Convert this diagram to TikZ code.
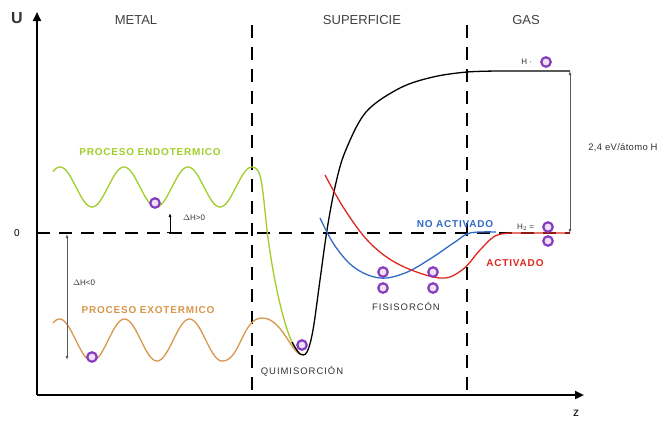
\documentclass[tikz,border=0pt]{standalone}
\usepackage{fontspec}
\setmainfont{Liberation Sans}
\usepackage{tikz}
\usetikzlibrary{arrows.meta, positioning}

\definecolor{endo}{RGB}{160,205,40}
\definecolor{exo}{RGB}{215,150,75}
\definecolor{activ}{RGB}{220,40,30}
\definecolor{noactiv}{RGB}{50,105,200}
\definecolor{atom}{RGB}{135,60,190}

\begin{document}
\begin{tikzpicture}[
  x=1pt, y=-1pt,
  axis/.style={line width=2.2pt, -{Triangle[length=9pt,width=8pt]}},
  sep/.style={line width=1.8pt, dash pattern=on 13pt off 9pt},
  lbl/.style={font=\fontsize{13}{14}\selectfont, text=black!75},
  tag/.style={font=\fontsize{10}{11}\selectfont\bfseries\addfontfeature{LetterSpace=8}, inner sep=0pt},
  small/.style={font=\fontsize{8}{9}\selectfont, text=black!80, inner sep=0pt},
  captxt/.style={font=\fontsize{9.5}{10}\selectfont\addfontfeature{LetterSpace=10}, text=black!80, inner sep=0pt},
  dh/.style={gray!70!black, line width=0.8pt, {Latex[length=4pt]}-{Latex[length=4pt]}},
  curve/.style={line width=1.3pt},
  atm/.style={circle, draw=atom, line width=2.2pt, fill=atom!15, minimum size=9.5pt, inner sep=0pt}
]
\useasboundingbox (0,0) rectangle (666,421);

% axes
\coordinate (orig) at (37,395);
\draw[axis] (orig) -- (37,12);
\draw[axis] (orig) -- (584,395);
\node[font=\fontsize{16}{16}\selectfont\bfseries, text=black!80] (U) at (17,18) {U};
\node[font=\fontsize{12}{12}\selectfont] (z) at (576,413) {z};
\node[font=\fontsize{10}{10}\selectfont] (cero) at (17,233) {0};

% zones
\draw[sep] (37,233) -- (570,233);
\draw[sep] (252,25) -- (252,392);
\draw[sep] (467,25) -- (467,392);
\node[lbl] (metal) at (136,20) {METAL};
\node[lbl] (superf) at (362,20) {SUPERFICIE};
\node[lbl] (gas) at (526,20) {GAS};

% endothermic path
\draw[endo, curve] plot[domain=53:252, samples=120] (\x,{187-20*cos(5.625*(\x-252))})
  .. controls (262,167) and (262,185) .. (267,230)
  .. controls (275,295) and (290,350) .. (300,353);
% exothermic path
\draw[exo, curve] plot[domain=53:222, samples=120] (\x,{340+21*cos(5.538*(\x-92))})
  .. controls (240,362) and (242,318) .. (262,318)
  .. controls (282,318) and (290,352) .. (302,355);
% H2 dissociation
\draw[black, curve] plot[smooth, tension=0.55] coordinates {(292,342) (300,354) (307,352) (313,330) (320,280) (327,230) (335,187) (345,152) (366,112) (400,88) (433,77) (467,72) (500,71)}
  -- (570,71);
% non activated
\draw[noactiv, curve] plot[smooth, tension=0.6] coordinates {(320,218) (335,246) (355,268) (380,278) (405,273) (430,259) (455,242) (470,233) (496,232)};
% activated
\draw[activ, curve] plot[smooth, tension=0.6] coordinates {(325,175) (345,210) (370,243) (400,265) (440,278) (462,270) (480,250) (495,236) (510,233)}
  -- (570,233);

% energy arrows
\coordinate (dhA) at (170,233);
\coordinate (dhB) at (170,213);
\draw[dh, {Bar[width=6pt]}-{Latex[length=4pt]}, black] (dhA) -- (dhB);
\node[small] (dhpos) at (194,218) {$\Delta$H>0};
\coordinate (dhC) at (67,234);
\coordinate (dhD) at (67,360);
\draw[dh] (dhC) -- (dhD);
\node[small] (dhneg) at (84,283) {$\Delta$H<0};
\coordinate (evA) at (570,71);
\coordinate (evB) at (570,233);
\draw[dh] (evA) -- (evB);
\node[small, font=\fontsize{9.5}{10}\selectfont\addfontfeature{LetterSpace=3}] (ev) at (623,148) {2,4 eV/átomo H};

% labels
\node[tag, text=endo] (endolbl) at (150,152) {PROCESO ENDOTERMICO};
\node[tag, text=exo] (exolbl) at (148,310) {PROCESO EXOTERMICO};
\node[tag, text=noactiv] (nolbl) at (455,224) {NO ACTIVADO};
\node[tag, text=activ] (actlbl) at (515,263) {ACTIVADO};
\node[captxt] (quim) at (302,371) {QUIMISORCIÓN};
\node[captxt] (fisi) at (406,306) {FISISORCÓN};

% atoms
\node[atm] (a1) at (155,203) {};
\node[atm] (a2) at (92,357) {};
\node[atm] (a3) at (302,345) {};
\node[atm] (f1) at (383,272) {};
\node[atm] (f2) at (383,288) {};
\node[atm] (f3) at (433,272) {};
\node[atm] (f4) at (433,288) {};
\node[atm] (g1) at (546,62) {};
\node[atm] (g2) at (548,227) {};
\node[atm] (g3) at (548,241) {};
\node[small, left=8pt of g1] (hat) {H ·};
\node[small, left=8pt of g2] (hmol) {H$_2$ =};
\end{tikzpicture}
\end{document}
